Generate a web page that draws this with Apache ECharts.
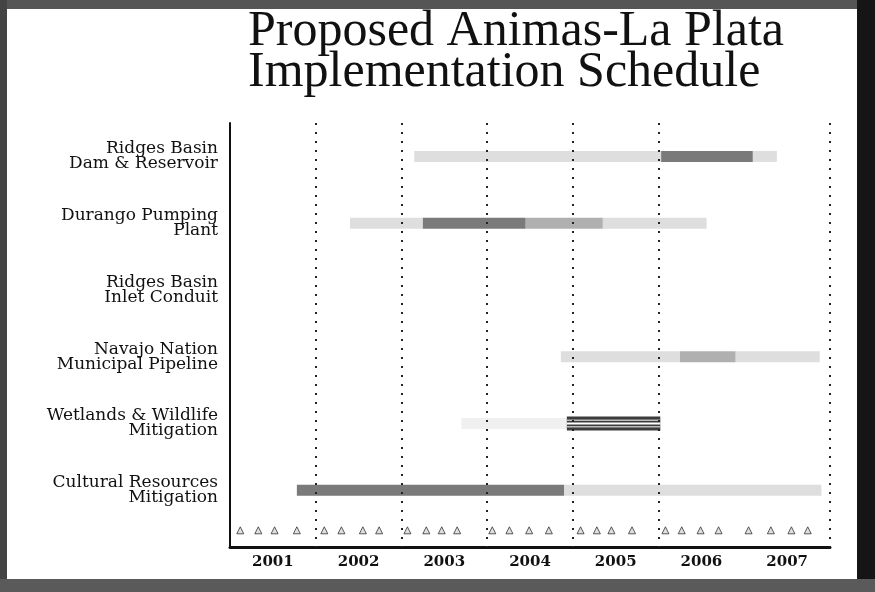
<!DOCTYPE html>
<html>
<head>
<meta charset="utf-8">
<script src="https://cdn.jsdelivr.net/npm/echarts@6/dist/echarts.min.js"></script>
<style>
  html, body { margin: 0; padding: 0; background: #fff; }
  #chart { width: 875px; height: 592px; }
</style>
</head>
<body>
<div id="chart"></div>
<script>
// ---- data ----
const titleLines = ['Proposed Animas-La Plata', 'Implementation Schedule'];
const tasks = [
  'Ridges Basin\nDam & Reservoir',
  'Durango Pumping\nPlant',
  'Ridges Basin\nInlet Conduit',
  'Navajo Nation\nMunicipal Pipeline',
  'Wetlands & Wildlife\nMitigation',
  'Cultural Resources\nMitigation'
];
const yearLabels = ['2001', '2002', '2003', '2004', '2005', '2006', '2007'];
const yearBoundaries = [2002, 2003, 2004, 2005, 2006, 2008];

// segments: [start year, end year, phase]
const damSegments      = [[2003.15, 2006.03, 'light'], [2006.03, 2007.1, 'dark'], [2007.1, 2007.38, 'light']];
const pumpingSegments  = [[2002.4, 2003.25, 'light'], [2003.25, 2004.45, 'dark'], [2004.45, 2005.35, 'medium'], [2005.35, 2006.56, 'light']];
const conduitSegments  = [];
const navajoSegments   = [[2004.86, 2006.25, 'light'], [2006.25, 2006.9, 'medium'], [2006.9, 2007.88, 'light']];
const wetlandSegments  = [[2003.7, 2004.93, 'faint'], [2004.93, 2006.02, 'hatch']];
const culturalSegments = [[2001.78, 2004.9, 'dark'], [2004.9, 2007.9, 'light']];
const milestones = [2001.12, 2001.33, 2001.52, 2001.78, 2002.1, 2002.3, 2002.55, 2002.74,
  2003.07, 2003.29, 2003.47, 2003.65, 2004.06, 2004.26, 2004.49, 2004.72,
  2005.09, 2005.28, 2005.45, 2005.69, 2006.08, 2006.27, 2006.49, 2006.7,
  2007.05, 2007.31, 2007.55, 2007.74];
const milestoneRow = 5.6;

// ---- build ----
const segmentsByTask = [damSegments, pumpingSegments, conduitSegments, navajoSegments, wetlandSegments, culturalSegments];
const phaseColor = { dark: '#7a7a7a', medium: '#b0b0b0', light: '#dedede', faint: '#f0f0f0', hatch: '#4a4a4a' };
const barData = [];
segmentsByTask.forEach((segs, row) => {
  segs.forEach(s => barData.push({ value: [row, s[0], s[1]], phase: s[2] }));
});

function renderBar(params, api) {
  const row = api.value(0);
  const p0 = api.coord([api.value(1), row]);
  const p1 = api.coord([api.value(2), row]);
  const phase = barData[params.dataIndex].phase;
  const h = phase === 'hatch' ? 14 : 11;
  const x = p0[0], y = p0[1] - h / 2, w = p1[0] - p0[0];
  if (phase === 'hatch') {
    return {
      type: 'group',
      children: [
        { type: 'rect', shape: { x: x, y: y, width: w, height: h }, style: { fill: '#3c3c3c' } },
        { type: 'rect', shape: { x: x, y: y + 3, width: w, height: 1.5 }, style: { fill: '#bbb' } },
        { type: 'rect', shape: { x: x, y: y + h / 2 - 1, width: w, height: 2 }, style: { fill: '#fff' } },
        { type: 'rect', shape: { x: x, y: y + h - 4.5, width: w, height: 1.5 }, style: { fill: '#bbb' } }
      ]
    };
  }
  return {
    type: 'rect',
    shape: { x: x, y: y, width: w, height: h },
    style: { fill: phaseColor[phase] }
  };
}

const chart = echarts.init(document.getElementById('chart'), null, { renderer: 'canvas' });
const isInt = v => Math.abs(v - Math.round(v)) < 1e-6;

chart.setOption({
  backgroundColor: '#ffffff',
  animation: false,
  title: {
    text: titleLines.join('\n'),
    left: 243,
    top: 6,
    textStyle: {
      fontFamily: 'Liberation Serif',
      fontSize: 50,
      fontWeight: 'normal',
      lineHeight: 41,
      color: '#111'
    }
  },
  graphic: [
    { type: 'rect', left: 0, top: 0, shape: { width: 875, height: 9 }, style: { fill: '#555' } },
    { type: 'rect', left: 0, top: 0, shape: { width: 7, height: 592 }, style: { fill: '#444' } },
    { type: 'rect', left: 857, top: 0, shape: { width: 18, height: 592 }, style: { fill: '#151515' } },
    { type: 'rect', left: 0, top: 579, shape: { width: 875, height: 13 }, style: { fill: '#5a5a5a' } }
  ],
  grid: { left: 230, right: 45, top: 123, bottom: 45, containLabel: false },
  xAxis: {
    type: 'value',
    min: 2001,
    max: 2008,
    interval: 0.5,
    axisLine: { show: true, onZero: false, lineStyle: { color: '#111', width: 3 } },
    axisTick: { show: false },
    splitLine: { show: false },
    axisLabel: {
      margin: 8,
      fontFamily: 'DejaVu Serif',
      fontSize: 15,
      fontWeight: 'bold',
      color: '#111',
      showMaxLabel: false,
      formatter: v => {
        const f = v - Math.floor(v);
        if (Math.abs(f - 0.5) < 1e-6) {
          const idx = Math.floor(v) - 2001;
          return yearLabels[idx] || '';
        }
        return '';
      }
    }
  },
  yAxis: {
    type: 'value',
    inverse: true,
    min: -0.5,
    max: 5.85,
    interval: 0.5,
    axisLine: { show: true, onZero: false, lineStyle: { color: '#111', width: 2 } },
    axisTick: { show: false },
    splitLine: { show: false },
    axisLabel: {
      margin: 12,
      fontFamily: 'DejaVu Serif',
      fontSize: 17,
      lineHeight: 15,
      color: '#111',
      align: 'right',
      formatter: v => (isInt(v) && v >= 0 && v < tasks.length) ? tasks[Math.round(v)] : ''
    }
  },
  series: [
    {
      type: 'custom',
      renderItem: renderBar,
      encode: { x: [1, 2], y: 0 },
      data: barData,
      clip: true,
      z: 3
    },
    {
      type: 'scatter',
      symbol: 'triangle',
      symbolSize: 7,
      itemStyle: { color: '#d8d8d8', borderColor: '#333', borderWidth: 1 },
      data: milestones.map(m => [m, milestoneRow]),
      z: 4,
      markLine: {
        silent: true,
        symbol: 'none',
        label: { show: false },
        lineStyle: { color: '#222', type: [2, 7], width: 2 },
        data: yearBoundaries.map(y => ({ xAxis: y }))
      }
    }
  ]
});
</script>
</body>
</html>
